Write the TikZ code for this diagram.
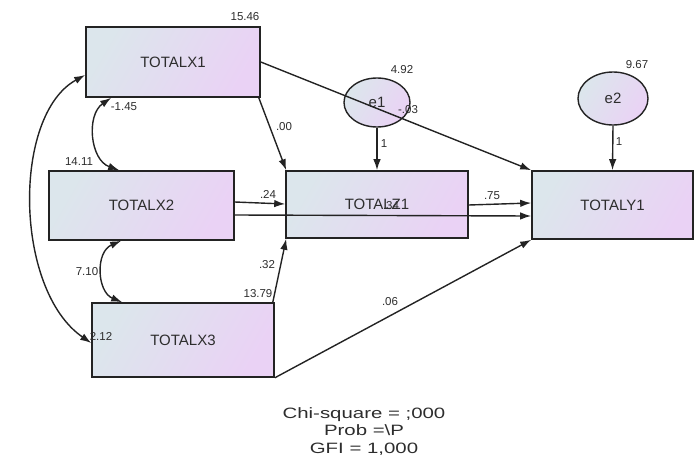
\documentclass[tikz,border=0pt]{standalone}
\usepackage{fontspec}
\setmainfont{Liberation Sans}
\usetikzlibrary{arrows.meta,calc,shapes.geometric}
\definecolor{fillA}{RGB}{220,230,236}
\definecolor{fillB}{RGB}{234,210,245}
\definecolor{ink}{RGB}{35,35,35}
\definecolor{txt}{RGB}{45,45,45}
\tikzset{
  obsvar/.style={draw=ink, line width=1.6pt, rectangle, left color=fillA, right color=fillB,
    shading angle=60, font=\fontsize{15}{16}\selectfont, text=txt, inner sep=0pt},
  errvar/.style={draw=ink, line width=1.4pt, ellipse, left color=fillA, right color=fillB,
    shading angle=60, font=\fontsize{15}{16}\selectfont, text=txt, inner sep=0pt},
  estim/.style={font=\fontsize{11.5}{12}\selectfont, text=txt, inner sep=0pt},
  fitline/.style={font=\fontsize{15}{16}\selectfont, text=txt, inner sep=0pt, anchor=base},
  path1/.style={draw=ink, line width=1.4pt, -{Latex[length=11pt,width=7.5pt]}},
  cov/.style={draw=ink, line width=1.4pt, {Latex[length=11pt,width=7.5pt]}-{Latex[length=11pt,width=7.5pt]}},
}
\begin{document}
\begin{tikzpicture}[x=1pt,y=-1pt]
\useasboundingbox (0,0) rectangle (699,458);

% observed variables
\node[obsvar, minimum width=174pt, minimum height=70pt] (X1) at (173,62) {TOTALX1};
\node[obsvar, minimum width=185pt, minimum height=69pt] (X2) at (141.5,205.5) {TOTALX2};
\node[obsvar, minimum width=182pt, minimum height=74pt] (X3) at (183,340) {TOTALX3};
\node[obsvar, minimum width=182pt, minimum height=67pt] (Z1) at (377,204.5) {TOTALZ1};
\node[obsvar, minimum width=161pt, minimum height=68pt] (Y1) at (612.5,205) {TOTALY1};

% error terms
\node[errvar, minimum width=66pt, minimum height=49pt] (e1) at (377,102.5) {e1};
\node[errvar, minimum width=70pt, minimum height=53pt] (e2) at (613,98.5) {e2};

% regression paths
\draw[path1] (X1.east) -- (Y1.north west);
\draw[path1] ($(X1.south east)+(-2,0)$) -- ($(Z1.north west)+(1,0)$);
\draw[path1] (e1.south) -- (Z1.north);
\draw[path1] (e2.south) -- (Y1.north);
\draw[path1] ($(X2.east)+(0,-3.5)$) -- ($(Z1.west)+(0,-0.5)$);
\draw[path1] ($(X2.east)+(0,9.5)$) -- ($(Y1.west)+(0,11)$);
\draw[path1] ($(Z1.east)+(0,0.5)$) -- ($(Y1.west)+(0,-2)$);
\draw[path1] ($(X3.north east)+(-2,0)$) -- ($(Z1.south west)+(1,0)$);
\draw[path1] (X3.south east) -- (Y1.south west);

% covariances
\draw[cov] ($(X1.south west)+(26,0)$) .. controls (86,115) and (90,160) .. ($(X2.north west)+(71,0)$);
\draw[cov] ($(X2.south west)+(73,0)$) .. controls (95,252) and (97,292) .. ($(X3.north west)+(31,0)$);
\draw[cov] ($(X1.west)+(0,13)$) .. controls (12,115) and (14,290) .. ($(X3.west)+(0,3)$);

% estimates
\node[estim] (vX1) at (245,17) {15.46};
\node[estim] (ve1) at (402,70) {4.92};
\node[estim] (ve2) at (637,65) {9.67};
\node[estim] (bX1Y1) at (408,110) {-.03};
\node[estim] (le1) at (384,144) {1};
\node[estim] (le2) at (619,142) {1};
\node[estim] (bX1Z1) at (284,127) {.00};
\node[estim] (vX2) at (79,162) {14.11};
\node[estim] (cX1X2) at (124,107) {-1.45};
\node[estim] (bX2Z1) at (268,194) {.24};
\node[estim] (bZ1Y1) at (492,196) {.75};
\node[estim] (bX2Y1) at (391,206) {.34};
\node[estim] (cX2X3) at (87,272) {7.10};
\node[estim] (vX3) at (258,294) {13.79};
\node[estim] (bX3Z1) at (267,265) {.32};
\node[estim] (cX1X3) at (101,336) {2.12};
\node[estim] (bX3Y1) at (390,302) {.06};

% fit statistics
\node[fitline] (chi) at (364,418) {\scalebox{1.36}[1]{Chi-square = ;000}};
\node[fitline] (prob) at (364,435.5) {\scalebox{1.36}[1]{Prob =\textbackslash P}};
\node[fitline] (gfi) at (364,453) {\scalebox{1.36}[1]{GFI = 1,000}};
\end{tikzpicture}
\end{document}
